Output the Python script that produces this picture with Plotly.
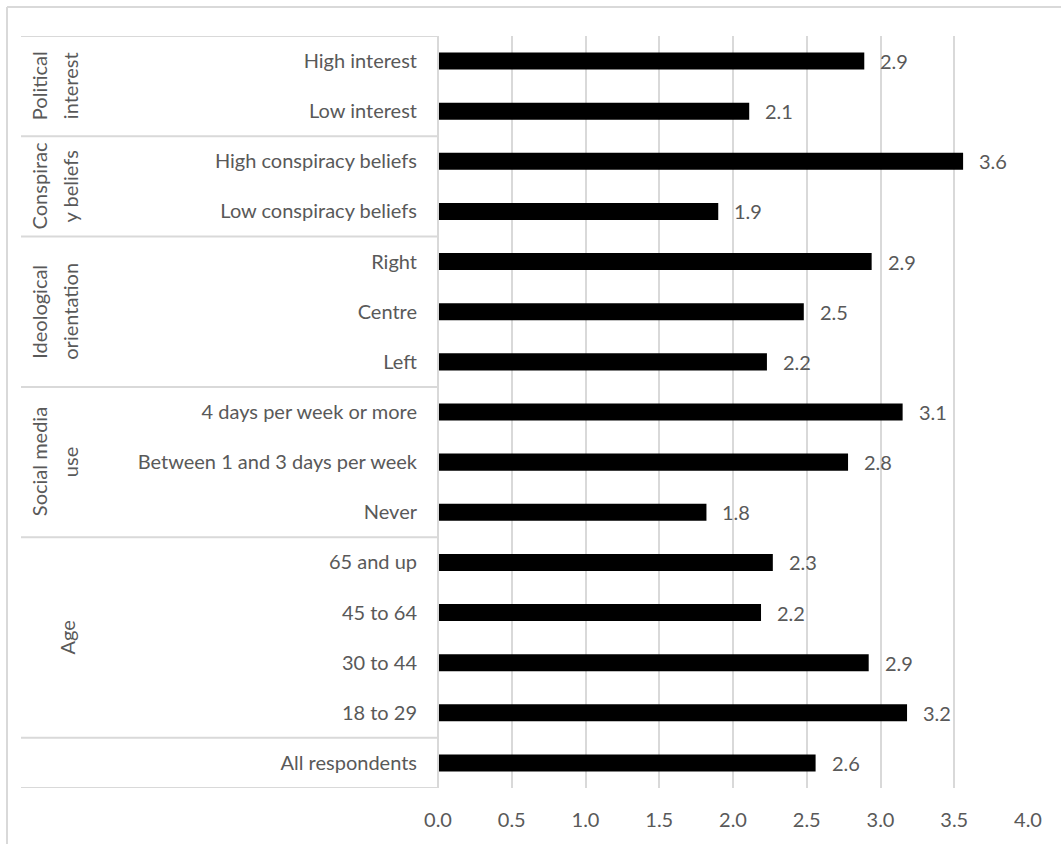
import plotly.graph_objects as go

# Data (bottom to top)
categories = [
    "All respondents",
    "18 to 29", "30 to 44", "45 to 64", "65 and up",
    "Never", "Between 1 and 3 days per week", "4 days per week or more",
    "Left", "Centre", "Right",
    "Low conspiracy beliefs", "High conspiracy beliefs",
    "Low interest", "High interest",
]
values = [2.56, 3.18, 2.92, 2.19, 2.27, 1.82, 2.78, 3.15, 2.23, 2.48, 2.94, 1.90, 3.56, 2.11, 2.89]
labels = ["2.6", "3.2", "2.9", "2.2", "2.3", "1.8", "2.8", "3.1", "2.2", "2.5", "2.9", "1.9", "3.6", "2.1", "2.9"]

group_line1 = ["Political", "Conspirac", "Ideological", "Social media", ""]
group_line2 = ["interest", "y beliefs", "orientation", "use", "Age"]
group_first = [13, 11, 8, 5, 1]   # index of bottom row in group
group_last = [14, 12, 10, 7, 4]   # index of top row in group

x_ticks = [0.0, 0.5, 1.0, 1.5, 2.0, 2.5, 3.0, 3.5, 4.0]

FONT = "Lato"
TXT = "#595959"
LINE = "#d9d9d9"
PLOT_L, PLOT_W = 438, 590


def px2paper(px):
    return (px - PLOT_L) / PLOT_W


fig = go.Figure()
fig.add_trace(go.Bar(
    y=categories, x=values, orientation="h",
    marker=dict(color="#000000", line=dict(width=0)),
    width=0.34, hoverinfo="x+y",
))

annotations = []
for c, v, t in zip(categories, values, labels):
    annotations.append(dict(
        x=v, y=c, xref="x", yref="y", text=t, showarrow=False,
        xanchor="left", yanchor="middle", xshift=14,
        font=dict(family=FONT, size=20, color=TXT),
    ))

for l1, l2, a, b in zip(group_line1, group_line2, group_first, group_last):
    ymid = (a + b) / 2
    if l1:
        annotations.append(dict(
            x=px2paper(39), y=ymid, xref="paper", yref="y", text=l1, showarrow=False,
            textangle=-90, xanchor="center", yanchor="middle",
            font=dict(family=FONT, size=20, color=TXT)))
        annotations.append(dict(
            x=px2paper(70), y=ymid, xref="paper", yref="y", text=l2, showarrow=False,
            textangle=-90, xanchor="center", yanchor="middle",
            font=dict(family=FONT, size=20, color=TXT)))
    else:
        annotations.append(dict(
            x=px2paper(67), y=ymid, xref="paper", yref="y", text=l2, showarrow=False,
            textangle=-90, xanchor="center", yanchor="middle",
            font=dict(family=FONT, size=20, color=TXT)))

LEFT = px2paper(21)
shapes = []
for yb in [-0.5, 0.5, 4.5, 7.5, 10.5, 12.5, 14.5]:
    shapes.append(dict(type="line", xref="paper", yref="y",
                       x0=LEFT, x1=0, y0=yb, y1=yb,
                       line=dict(color=LINE, width=2)))
# axis line
shapes.append(dict(type="line", xref="paper", yref="y", x0=0, x1=0,
                   y0=-0.5, y1=14.5, line=dict(color=LINE, width=2)))
# outer chart border (top and left)
top_y = (844 - 56 - 7) / 752
shapes.append(dict(type="line", xref="paper", yref="paper",
                   x0=px2paper(7), x1=px2paper(1061), y0=top_y, y1=top_y,
                   line=dict(color=LINE, width=2)))
shapes.append(dict(type="line", xref="paper", yref="paper",
                   x0=px2paper(7), x1=px2paper(7), y0=top_y, y1=-0.1,
                   line=dict(color=LINE, width=2)))

fig.update_layout(
    width=1061, height=844,
    margin=dict(l=PLOT_L, r=1061 - PLOT_L - PLOT_W, t=36, b=56),
    paper_bgcolor="white", plot_bgcolor="white",
    showlegend=False,
    font=dict(family=FONT, size=20, color=TXT),
    xaxis=dict(range=[0, 4.0], tickvals=x_ticks,
               ticktext=[f"{t:.1f}" for t in x_ticks],
               showgrid=True, gridcolor=LINE, gridwidth=2,
               zeroline=False, showline=False, ticks="",
               ticklabelstandoff=18,
               tickfont=dict(family=FONT, size=20, color=TXT)),
    yaxis=dict(categoryorder="array", categoryarray=categories,
               range=[-0.5, 14.5], showgrid=False, zeroline=False,
               showline=False, ticks="", ticklabelstandoff=20,
               tickfont=dict(family=FONT, size=20, color=TXT)),
    annotations=annotations,
    shapes=shapes,
)

fig.write_html("out.html")
